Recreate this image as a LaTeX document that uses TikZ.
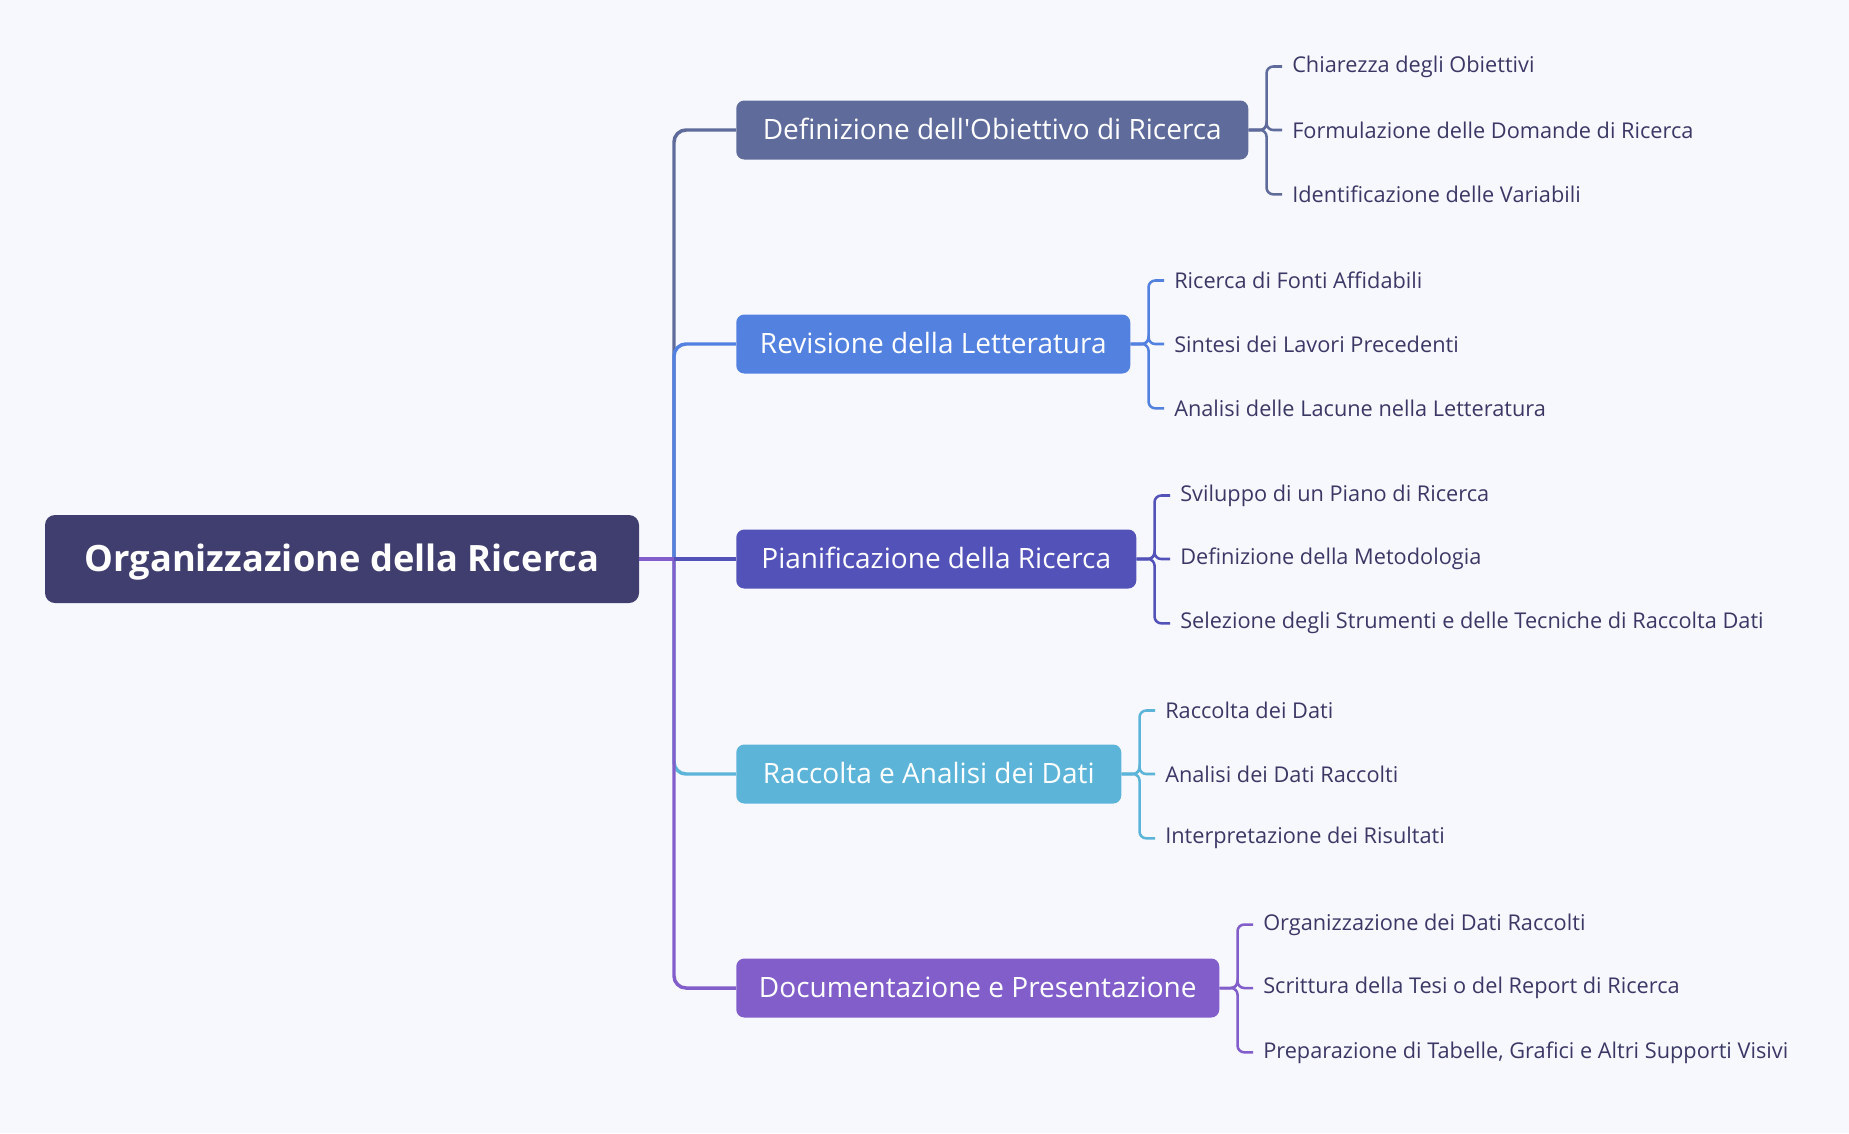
\documentclass[tikz,border=0pt]{standalone}
\usepackage{fontspec}
\setmainfont{Open Sans}
\newfontfamily\plainfont{Open Sans}
\definecolor{bgc}{HTML}{F7F8FD}
\definecolor{rootc}{HTML}{403E6E}
\definecolor{ca}{HTML}{5E6B9B}
\definecolor{cb}{HTML}{5381E0}
\definecolor{cc}{HTML}{5352B9}
\definecolor{cd}{HTML}{5DB4D9}
\definecolor{ce}{HTML}{825ECB}
\definecolor{leafc}{HTML}{3B3866}
\tikzset{
  rootbox/.style={fill=rootc, rounded corners=7.5pt, text=white, font=\fontsize{27.2}{31}\selectfont\bfseries, minimum width=445.5pt, minimum height=66pt, inner sep=0pt, text height=19.3pt, text depth=0pt},
  branchbox/.style={rounded corners=6pt, text=white, font=\plainfont\fontsize{21}{24}\selectfont, minimum height=44.25pt, inner sep=0pt, anchor=west, text height=14.9pt, text depth=0pt},
  leafbox/.style={text=leafc, font=\fontsize{16.3}{19}\selectfont, anchor=west, inner xsep=7.5pt, inner ysep=2pt},
  trunk/.style={line width=2.6pt, rounded corners=9pt},
  twig/.style={line width=1.9pt, rounded corners=5pt},
}
\begin{document}
\begin{tikzpicture}[x=0.75pt,y=-0.75pt]
\fill[bgc] (0,0) rectangle (1849,1133);
\useasboundingbox (0,0) rectangle (1849,1133);

\node[rootbox] (root) at (342,559) {Organizzazione della Ricerca};
\coordinate (hub) at (674,559);

\node[branchbox, fill=ca, minimum width=384pt] (b1) at (736,130) {Definizione dell'Obiettivo di Ricerca};
\node[branchbox, fill=cb, minimum width=295.5pt] (b2) at (736,344) {Revisione della Letteratura};
\node[branchbox, fill=cc, minimum width=300pt] (b3) at (736,559) {Pianificazione della Ricerca};
\node[branchbox, fill=cd, minimum width=288.75pt] (b4) at (736,774) {Raccolta e Analisi dei Dati};
\node[branchbox, fill=ce, minimum width=362.25pt] (b5) at (736,988) {Documentazione e Presentazione};

% trunk connectors
\draw[trunk, ca] (hub) |- (b1.west);
\draw[trunk, cb] (hub) |- (b2.west);
\draw[trunk, cd] (hub) |- (b4.west);
\draw[trunk, ce] (hub) |- (b5.west);
\draw[trunk, cc] (hub) -- (b3.west);
\draw[trunk, ce] (root.east) -- (hub);

% leaves
\node[leafbox] (l11) at (1282,66.5) {Chiarezza degli Obiettivi};
\node[leafbox] (l12) at (1282,130) {Formulazione delle Domande di Ricerca};
\node[leafbox] (l13) at (1282,194.3) {Identificazione delle Variabili};

\node[leafbox] (l21) at (1164,280.5) {Ricerca di Fonti Affidabili};
\node[leafbox] (l22) at (1164,344) {Sintesi dei Lavori Precedenti};
\node[leafbox] (l23) at (1164,408.3) {Analisi delle Lacune nella Letteratura};

\node[leafbox] (l31) at (1170,495.5) {Sviluppo di un Piano di Ricerca};
\node[leafbox] (l32) at (1170,559) {Definizione della Metodologia};
\node[leafbox] (l33) at (1170,623.3) {Selezione degli Strumenti e delle Tecniche di Raccolta Dati};

\node[leafbox] (l41) at (1155,710.5) {Raccolta dei Dati};
\node[leafbox] (l42) at (1155,774) {Analisi dei Dati Raccolti};
\node[leafbox] (l43) at (1155,838.3) {Interpretazione dei Risultati};

\node[leafbox] (l51) at (1253,924.5) {Organizzazione dei Dati Raccolti};
\node[leafbox] (l52) at (1253,988) {Scrittura della Tesi o del Report di Ricerca};
\node[leafbox] (l53) at (1253,1052.3) {Preparazione di Tabelle, Grafici e Altri Supporti Visivi};

\foreach \b/\c in {1/ca,2/cb,3/cc,4/cd,5/ce}{
  \foreach \l in {1,2,3}{
    \draw[twig, \c] (b\b.east) -- ++(18,0) |- (l\b\l.west);
  }
}
\end{tikzpicture}
\end{document}
